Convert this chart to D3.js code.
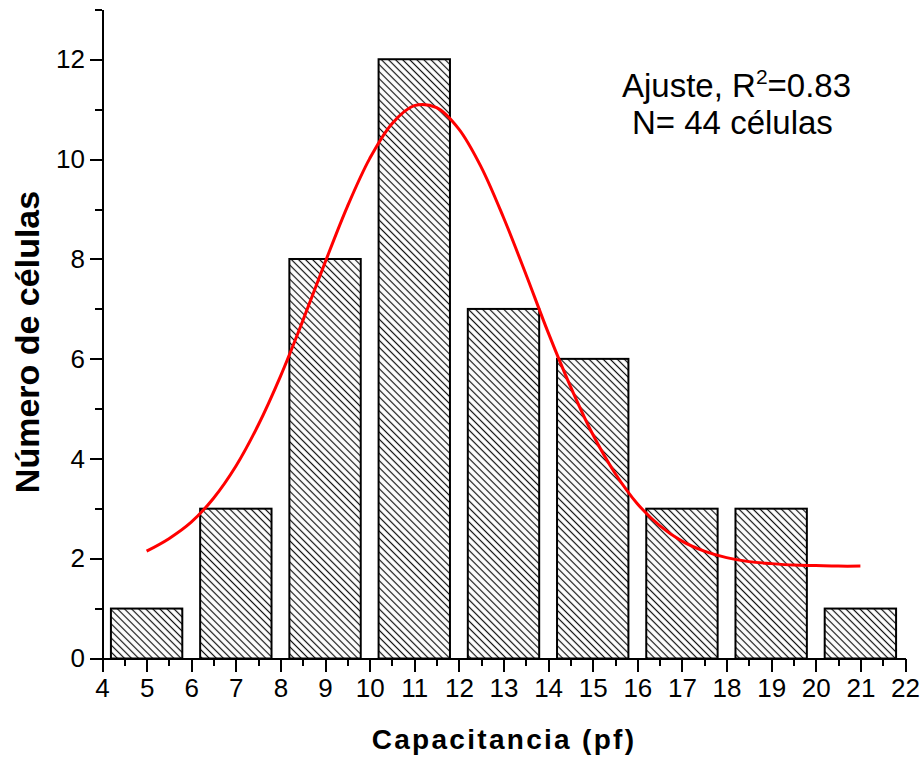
<!DOCTYPE html>
<meta charset="utf-8">
<style>
body { margin: 0; background: #fff; }
svg { font-family: "Liberation Sans", Arial, sans-serif; }
.axis path, .axis line { fill: none; stroke: #000; stroke-width: 2; shape-rendering: crispEdges; }
.axis text { font-size: 26px; fill: #000; }
.bar { stroke: #000; stroke-width: 2; }
.fit { fill: none; stroke: #ff0000; stroke-width: 3; }
.title { font-weight: bold; font-size: 28px; }
.note { font-size: 33px; }
</style>
<body>
<script src="https://d3js.org/d3.v7.min.js"></script>
<script>

// histogram data
var binCenters = [5, 7, 9, 11, 13, 15, 17, 19, 21];
var counts = [1, 3, 8, 12, 7, 6, 3, 3, 1];

// fitted curve
var fitX = [5, 5.5, 6, 6.5, 7, 7.5, 8, 8.5, 9, 9.5, 10, 10.5, 11, 11.5, 12, 12.5, 13,
            13.5, 14, 14.5, 15, 15.5, 16, 16.5, 17, 17.5, 18, 18.5, 19, 19.5, 20, 20.5, 21];
var fitY = [2.15, 2.40, 2.73, 3.21, 3.85, 4.67, 5.65, 6.76, 7.93, 9.05, 10.01, 10.71, 11.07,
            11.03, 10.60, 9.84, 8.83, 7.70, 6.53, 5.45, 4.49, 3.71, 3.10, 2.66, 2.35, 2.15,
            2.02, 1.94, 1.90, 1.87, 1.86, 1.85, 1.85];

var xMajor = d3.range(4, 23, 1);
var xMinor = d3.range(4.5, 22, 1);
var yMajor = [0, 2, 4, 6, 8, 10, 12];
var yMinor = [1, 3, 5, 7, 9, 11, 13];

var width = 923, height = 759;
var binWidth = 1.6;

var x = d3.scaleLinear().domain([4, 22]).range([102, 905]);
var y = d3.scaleLinear().domain([0, 13]).range([658.5, 9.3]);

var svg = d3.select("body").append("svg")
    .attr("width", width)
    .attr("height", height);

// hatch pattern
var defs = svg.append("defs");
defs.append("pattern")
    .attr("id", "hatch")
    .attr("patternUnits", "userSpaceOnUse")
    .attr("width", 5)
    .attr("height", 10)
    .attr("patternTransform", "rotate(-45)")
  .append("line")
    .attr("x1", 2.5).attr("y1", 0)
    .attr("x2", 2.5).attr("y2", 10)
    .attr("stroke", "#111")
    .attr("stroke-width", 1.2);

// bars
svg.selectAll(".bar")
    .data(binCenters)
  .enter().append("rect")
    .attr("class", "bar")
    .attr("x", function(d) { return x(d - binWidth / 2); })
    .attr("width", function(d) { return x(d + binWidth / 2) - x(d - binWidth / 2); })
    .attr("y", function(d, i) { return y(counts[i]); })
    .attr("height", function(d, i) { return y(0) - y(counts[i]); })
    .attr("fill", "url(#hatch)");

// fit line
var line = d3.line()
    .x(function(d) { return x(d); })
    .y(function(d, i) { return y(fitY[i]); })
    .curve(d3.curveCatmullRom);

svg.append("path")
    .datum(fitX)
    .attr("class", "fit")
    .attr("d", line);

// x axis
svg.append("g")
    .attr("class", "axis")
    .attr("transform", "translate(0," + y(0) + ")")
    .call(d3.axisBottom(x).tickValues(xMinor).tickSize(7).tickSizeOuter(0).tickFormat(""));

svg.append("g")
    .attr("class", "axis")
    .attr("transform", "translate(0," + y(0) + ")")
    .call(d3.axisBottom(x).tickValues(xMajor).tickSize(13).tickSizeOuter(0).tickPadding(7)
      .tickFormat(d3.format("d")));

// y axis
svg.append("g")
    .attr("class", "axis")
    .attr("transform", "translate(" + x(4) + ",0)")
    .call(d3.axisLeft(y).tickValues(yMinor).tickSize(7).tickSizeOuter(0).tickFormat(""));

svg.append("g")
    .attr("class", "axis")
    .attr("transform", "translate(" + x(4) + ",0)")
    .call(d3.axisLeft(y).tickValues(yMajor).tickSize(12).tickSizeOuter(0).tickPadding(5)
      .tickFormat(d3.format("d")));

// axis titles
svg.append("text")
    .attr("class", "title")
    .attr("x", 504)
    .attr("y", 749)
    .attr("text-anchor", "middle")
    .style("letter-spacing", "2.3px")
    .text("Capacitancia (pf)");

svg.append("text")
    .attr("class", "title")
    .attr("transform", "translate(39,342) rotate(-90)")
    .attr("text-anchor", "middle")
    .style("font-size", "34px")
    .text("Número de células");

// annotation
var t1 = svg.append("text")
    .attr("class", "note")
    .attr("x", 622)
    .attr("y", 97);
t1.append("tspan").text("Ajuste, R");
t1.append("tspan").attr("dy", -13).style("font-size", "21px").text("2");
t1.append("tspan").attr("dy", 13).text("=0.83");

svg.append("text")
    .attr("class", "note")
    .attr("x", 632)
    .attr("y", 134)
    .text("N= 44 células");

</script>
</body>
